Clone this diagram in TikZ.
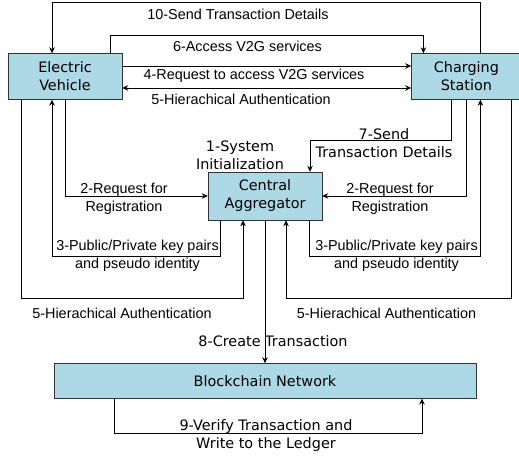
\documentclass[tikz,border=0pt]{standalone}
\usepackage{fontspec}
\setmainfont{Liberation Sans}
\newfontfamily\boxfont{DejaVu Sans}
\usetikzlibrary{positioning, arrows.meta}
\definecolor{boxblue}{HTML}{ADD8E6}

\begin{document}
\begin{tikzpicture}[
    x=1pt, y=1pt,
    >={Stealth[length=6pt,width=5.5pt]},
    box/.style={
        rectangle,
        draw=black!80,
        fill=boxblue,
        minimum height=46pt,
        align=center,
        inner sep=0pt,
        font=\boxfont\fontsize{14.4}{18}\selectfont
    },
    lbl/.style={
        align=center,
        inner sep=0pt,
        font=\fontsize{14.4}{17.5}\selectfont
    },
    boxlbl/.style={
        lbl,
        font=\boxfont\fontsize{14.4}{18}\selectfont
    },
    arrow/.style={->, line width=0.8pt}
]
\useasboundingbox (0,0) rectangle (519,458);

% Electric Vehicle
\node[box, minimum width=114pt] (ev) at (65,381.5) {Electric\\Vehicle};

% Charging Station
\node[box, minimum width=110pt, right=289pt of ev] (cs) {Charging\\Station};

% Central Aggregator
\node[box, minimum width=114pt, minimum height=48pt] (ca) at (265,262) {Central\\Aggregator};

% Blockchain
\node[box, minimum width=422pt, minimum height=35pt, below=143pt of ca] (bc) {Blockchain Network};

% Arrows between EV and CS
\draw[arrow] ([xshift=14pt]cs.north) -- ++(0,50.5) -| ([xshift=-13pt]ev.north);
\draw[arrow] ([xshift=45pt]ev.north) -- ++(0,17.5) -| ([xshift=-43pt]cs.north);
\draw[arrow] ([yshift=10.5pt]ev.east) -- ([yshift=10.5pt]cs.west);
\draw[arrow, <->] ([yshift=-11.5pt]ev.east) -- ([yshift=-11.5pt]cs.west);

% Arrows to and from CA
\draw[arrow] ([xshift=-15pt]cs.south) -- ++(0,-40.5) -| ([xshift=45pt]ca.north);
\draw[arrow] (ev.south) |- (ca.west);
\draw[arrow] (cs.south) |- (ca.east);
\draw[arrow] ([xshift=-45pt]ca.south) -- ++(0,-36) -| ([xshift=-13pt]ev.south);
\draw[arrow] ([xshift=44pt]ca.south) -- ++(0,-36) -| ([xshift=14pt]cs.south);
\draw[arrow] ([xshift=-44pt]ev.south) -- ++(0,-198.5) -| ([xshift=-22pt]ca.south);
\draw[arrow] ([xshift=45pt]cs.south) -- ++(0,-198.5) -| ([xshift=21pt]ca.south);

% Blockchain arrows
\draw[arrow] (ca.south) -- (bc.north);
\draw[arrow] ([xshift=-151pt]bc.south) -- ++(0,-35) -| ([xshift=157pt]bc.south);

% Labels
\node[lbl] (l10) at (238,444) {10-Send Transaction Details};
\node[lbl] (l6) at (247.5,412) {6-Access V2G services};
\node[lbl] (l4) at (254,382) {4-Request to access V2G services};
\node[lbl] (l5top) at (241,359) {5-Hierachical Authentication};
\node[boxlbl] (l1) at (240,302.5) {1-System\\Initialization};
\node[boxlbl] (l7) at (384,315) {7-Send\\Transaction Details};
\node[lbl] (l2ev) at (124,259) {2-Request for\\Registration};
\node[lbl] (l2cs) at (390,259) {2-Request for\\Registration};
\node[lbl] (l3ev) at (137.5,202) {3-Public/Private key pairs\\and pseudo identity};
\node[lbl] (l3cs) at (396.5,202) {3-Public/Private key pairs\\and pseudo identity};
\node[lbl] (l5ev) at (122,145) {5-Hierachical Authentication};
\node[lbl] (l5cs) at (386.5,145) {5-Hierachical Authentication};
\node[boxlbl] (l8) at (273,117) {8-Create Transaction};
\node[boxlbl] (l9) at (266,22) {9-Verify Transaction and\\Write to the Ledger};

\end{tikzpicture}
\end{document}
